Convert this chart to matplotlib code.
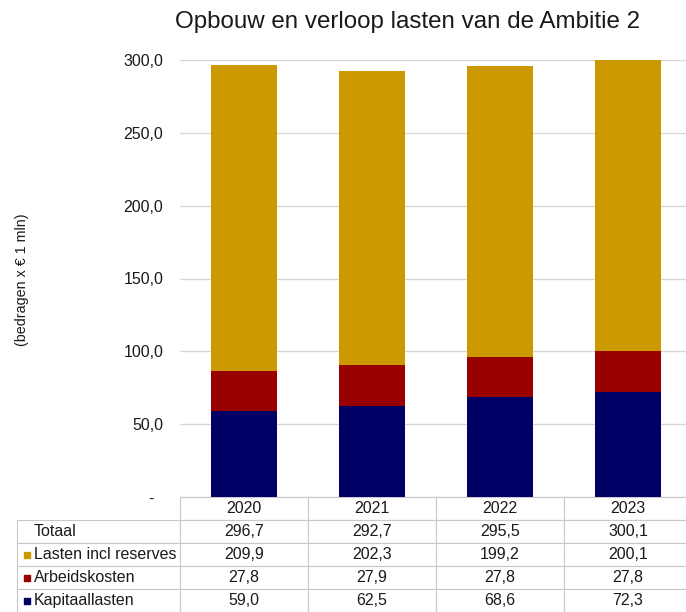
import matplotlib
matplotlib.use('Agg')
import matplotlib.pyplot as plt
from matplotlib.table import Table
import numpy as np

plt.rcParams['font.family'] = ['Liberation Sans', 'DejaVu Sans']

# ---- data ----
years = ['2020', '2021', '2022', '2023']
kapitaallasten = [59.0, 62.5, 68.6, 72.3]
arbeidskosten = [27.8, 27.9, 27.8, 27.8]
lasten_reserves = [209.9, 202.3, 199.2, 200.1]
totaal = [296.7, 292.7, 295.5, 300.1]
yticks = [0, 50, 100, 150, 200, 250, 300]

c_kap = '#000066'
c_arb = '#990000'
c_las = '#CC9900'

def fmt(v):
    return f'{v:.1f}'.replace('.', ',')

W, H = 686, 612
AX_L, AX_R, AX_T, AX_B = 180, 692, 60, 497
AW, AH = AX_R - AX_L, AX_B - AX_T
FS = 11.5
fig = plt.figure(figsize=(W / 100, H / 100), dpi=100)
ax = fig.add_axes([AX_L / W, 1 - AX_B / H, AW / W, AH / H])

x = np.arange(len(years))
bw = 0.52
ax.bar(x, kapitaallasten, bw, color=c_kap, zorder=3)
b2 = np.array(kapitaallasten)
ax.bar(x, arbeidskosten, bw, bottom=b2, color=c_arb, zorder=3)
b3 = b2 + np.array(arbeidskosten)
ax.bar(x, lasten_reserves, bw, bottom=b3, color=c_las, zorder=3)

ax.set_xlim(-0.5, len(years) - 0.5)
ax.set_ylim(0, 300)
ax.set_yticks(yticks)
ax.set_yticklabels(['-  ' if v == 0 else fmt(v) for v in yticks], fontsize=FS, color='#1a1a1a')
ax.set_xticks([])
ax.tick_params(axis='y', length=0, pad=12)
ax.yaxis.grid(True, color='#d9d9d9', lw=1)
ax.set_axisbelow(True)
for s in ax.spines.values():
    s.set_visible(False)

# ---- table ----
rows = [('Totaal', totaal, None),
        ('Lasten incl reserves', lasten_reserves, c_las),
        ('Arbeidskosten', arbeidskosten, c_arb),
        ('Kapitaallasten', kapitaallasten, c_kap)]

rowh_px = 23
colw = 1.0 / len(years)
labw = 163 / AW
rowh = rowh_px / AH
nrows = len(rows) + 1
tab = Table(ax, bbox=[0, -nrows * rowh, 1.0, nrows * rowh])
edge = '#c8c8c8'
for c, yr in enumerate(years):
    tab.add_cell(0, c, width=colw, height=rowh, text=yr, loc='center', edgecolor=edge)
for r, (name, vals, col) in enumerate(rows, start=1):
    cell = tab.add_cell(r, -1, width=labw, height=rowh, text=name, loc='left', edgecolor=edge)
    cell.PAD = 17 / 163
    for c, v in enumerate(vals):
        tab.add_cell(r, c, width=colw, height=rowh, text=fmt(v), loc='center', edgecolor=edge)
tab.auto_set_font_size(False)
tab.set_fontsize(FS)
for cell in tab.get_celld().values():
    cell.get_text().set_color('#1a1a1a')
    cell.set_linewidth(0.8)
    cell.set_clip_on(False)
ax.add_table(tab)
tab.set_clip_on(False)

# colored squares in row labels
for r, (name, vals, col) in enumerate(rows):
    if col is None:
        continue
    yc = AX_B + rowh_px * (r + 1) + rowh_px / 2
    ax.scatter([(26.5 - AX_L) / AW], [(AX_B - yc) / AH], marker='s', s=25,
               color=col, transform=ax.transAxes, clip_on=False, zorder=5)

fig.text(408 / W, 1 - 22 / H, 'Opbouw en verloop lasten van de Ambitie 2',
         fontsize=17.4, ha='center', va='center', color='#1a1a1a')
fig.text(22 / W, 1 - 280 / H, '(bedragen x € 1 mln)', rotation=90,
         fontsize=10.3, ha='center', va='center', color='#1a1a1a')

fig.savefig('out.png', dpi=100)
